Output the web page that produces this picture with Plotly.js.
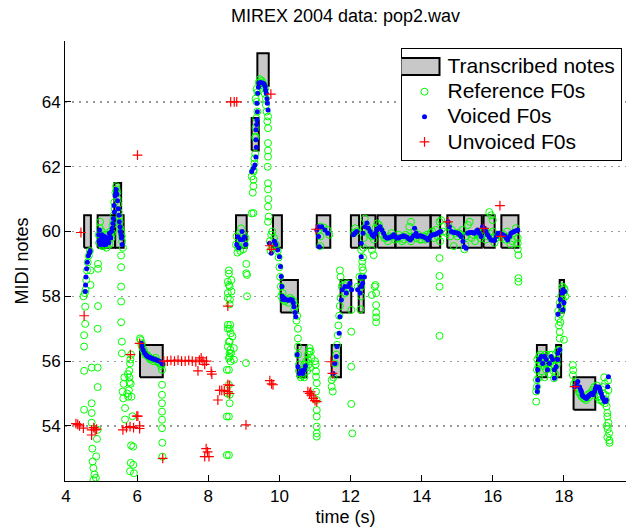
<!DOCTYPE html>
<html>
<head>
<meta charset="utf-8">
<script src="https://cdn.plot.ly/plotly-3.0.1.min.js"></script>
<style>html,body{margin:0;padding:0;background:#fff;}#chart{width:626px;height:531px;}</style>
</head>
<body>
<div id="chart"></div>
<script>
// Transcribed notes
const noteOn    = [4.51, 4.89, 5.38, 5.36, 6.08, 8.78, 9.22, 9.38, 9.82, 10.04, 10.51, 11.05, 11.47, 11.72, 12.01, 12.23, 12.32, 12.76, 13.26, 14.25, 14.72, 15.19, 15.74, 16.24, 17.24, 17.78, 17.88, 18.27];
const noteOff   = [4.70, 5.38, 5.62, 5.55, 6.72, 9.08, 9.42, 9.70, 10.07, 10.52, 10.76, 11.43, 11.73, 12.02, 12.24, 12.37, 12.70, 13.26, 14.25, 14.52, 15.19, 15.69, 16.05, 16.72, 17.51, 17.92, 18.00, 18.88];
const notePitch = [60, 60, 60, 61, 56, 60, 63, 65, 60, 58, 56, 60, 56, 58, 60, 58, 60, 60, 60, 60, 60, 60, 60, 60, 56, 56, 58, 55];

// Reference F0s [time, midi]
const refF0 = [
[4.49,58.0],[4.54,57.68],[4.54,57.15],[4.51,56.8],[4.51,56.45],[4.51,55.7],[4.51,54.5],[4.72,54.7],[4.72,54.4],[4.72,54.1],
[4.74,53.3],[4.77,52.7],[4.77,52.33],[4.84,52.4],[4.85,53.06],[4.87,53.6],[4.89,53.88],[4.89,55.2],[4.89,55.8],[4.72,55.8],
[4.69,58.8],[4.9,59.0],[4.9,58.85],[4.69,58.35],[4.9,57.7],[4.89,57.0],[4.8,52.5],[4.75,52.9],
[4.55,58.2],[4.57,58.5],[4.59,58.8],[4.61,59.05],[4.64,59.25],[4.67,59.4],[4.53,58.1],
[4.92,59.9],[4.95,60.1],[4.98,59.7],[5.0,59.6],[5.04,59.8],[5.08,59.65],[5.12,59.7],[5.16,59.6],[5.2,59.75],[5.24,60.0],
[5.28,59.8],[5.31,60.2],[5.34,60.5],[5.36,60.9],[5.39,61.2],[5.42,61.3],[5.45,61.0],[5.48,60.6],[5.51,60.3],[5.55,60.0],
[5.58,59.7],[5.6,59.5],[4.96,60.3],[5.02,59.55],
[4.93,59.65],[4.97,59.9],[5.01,60.0],[5.05,59.55],[5.1,59.9],[5.14,59.5],[5.18,59.9],[5.22,59.6],[5.26,59.95],[5.3,59.95],
[5.33,60.35],[5.37,60.7],[5.41,61.4],[5.44,61.2],[5.47,60.85],[5.5,60.45],[5.53,60.1],[5.57,59.85],
[5.55,59.26],[5.55,58.9],[5.55,58.3],[5.55,57.84],[5.55,57.2],[5.57,56.6],[5.57,56.24],
[5.83,56.2],[5.8,55.93],[5.78,55.7],[5.78,55.5],[5.82,55.3],[5.84,54.9],[5.59,55.06],[5.61,54.85],[5.66,54.55],[5.66,54.2],
[5.87,54.3],[5.89,53.36],[5.89,52.8],[5.91,52.54],[5.62,55.3],[5.64,55.5],[5.81,56.05],[5.77,55.1],[5.75,54.9],[5.72,55.0],
[5.74,55.6],[5.79,55.35],[5.83,53.4],[5.82,52.86],[5.8,52.6],
[6.70,55.73],[6.70,55.27],[6.70,54.96],[6.70,54.7],[6.70,54.44],[6.70,54.19],[6.70,53.93],[6.71,53.48],[6.71,53.05],
[6.1,56.65],[6.12,56.5],[6.15,56.4],[6.2,56.28],[6.27,56.2],[6.33,56.12],[6.4,56.08],[6.48,56.05],[6.56,56.0],[6.63,55.95],
[6.7,55.9],[6.08,56.7],
[6.13,56.55],[6.18,56.35],[6.23,56.2],[6.3,56.15],[6.37,56.05],[6.45,56.0],[6.52,56.1],[6.6,55.95],[6.67,55.85],
[8.62,57.12],[8.6,57.0],[8.63,56.86],[8.6,56.6],[8.62,56.35],[8.64,56.24],[8.6,56.14],[8.63,55.99],[8.58,55.73],[8.58,55.27],
[8.6,54.96],[8.6,54.7],[8.58,54.29],[8.58,53.1],[8.65,58.5],[8.6,58.3],[8.65,58.15],[8.61,57.9],[8.6,57.75],[8.68,56.76],
[8.72,56.4],[8.72,56.04],[8.58,58.8],[8.58,58.7],[8.55,58.45],[8.58,58.35],[8.55,58.1],[8.55,57.95],[8.55,57.12],[8.55,57.0],
[8.58,56.6],[8.55,56.45],[8.6,56.24],[8.58,56.1],[8.52,55.73],[8.54,55.0],[8.52,54.29],[8.52,53.1],
[9.06,55.94],[9.09,58.0],[9.09,58.66],[9.07,59.0],[9.22,60.56],[9.07,58.71],
[8.78,59.6],[8.8,59.85],[8.84,59.5],[8.88,59.95],[8.92,60.1],[8.96,59.7],[9.0,59.9],[9.03,59.6],[9.05,59.8],[8.82,59.35],
[8.9,59.4],[8.98,59.45],
[9.22,61.7],[9.27,61.9],[9.3,62.1],[9.32,62.4],[9.32,62.9],[9.33,63.2],[9.35,63.5],[9.36,64.0],[9.38,64.3],[9.42,64.6],
[9.5,64.65],[9.56,64.5],[9.59,64.25],[9.62,63.9],[9.64,63.7],[9.33,64.1],[9.38,63.7],[9.33,62.93],[9.3,62.26],[9.27,61.85],
[9.27,61.6],[9.27,61.4],[9.27,60.57],[9.68,63.55],[9.68,63.19],[9.68,62.73],[9.68,62.31],[9.68,61.49],[9.68,61.3],[9.68,60.77],
[9.7,60.46],[9.68,60.3],[9.66,63.4],[9.67,62.0],[9.69,61.0],[9.68,62.5],[9.25,61.2],
[9.36,64.4],[9.45,64.7],[9.53,64.6],[9.6,64.4],[9.62,64.1],
[9.73,59.7],[9.77,59.9],[9.8,60.0],[9.85,59.8],[9.9,59.6],[9.95,59.4],[9.98,59.2],[10.0,58.9],[10.02,58.6],[10.04,58.3],
[9.75,59.4],[9.78,59.5],
[10.05,58.0],[10.1,57.9],[10.2,57.9],[10.3,57.95],[10.4,57.85],[10.45,57.7],[10.5,57.4],[10.52,57.0],[10.52,56.7],[10.52,56.45],
[10.52,56.2],[10.55,55.9],[10.6,55.6],[10.65,55.7],[10.7,55.9],[10.75,56.0],[10.8,56.2],[10.85,56.4],[10.88,56.3],[10.9,56.1],
[10.78,55.7],[10.7,55.5],[10.6,55.5],[10.82,55.9],[10.86,55.8],
[10.15,57.85],[10.25,57.8],[10.35,57.9],[10.42,57.6],[10.48,57.25],[10.09,58.1],[10.55,55.7],[10.65,55.55],[10.75,55.8],[10.8,56.05],[10.84,56.3],
[11.03,55.68],[11.03,55.52],[11.05,55.32],[11.03,55.06],[11.05,54.8],[11.05,54.49],[11.05,54.29],[11.05,53.98],[11.05,53.77],[11.05,53.67],
[11.0,56.0],[11.02,55.9],
[11.1,60.05],[11.15,60.15],[11.25,60.12],[11.35,60.05],[11.4,59.9],[11.15,59.85],[11.15,59.55],
[11.47,55.42],[11.47,55.21],[11.5,55.06],[11.52,55.5],[11.56,55.93],[11.6,56.2],[11.62,56.5],[11.64,56.8],[11.66,57.1],[11.68,57.4],
[11.7,57.7],[11.72,57.95],[11.75,58.3],[11.8,58.35],[11.85,58.1],[11.9,58.4],[11.95,58.25],[11.72,58.6],[11.7,58.8],
[12.02,56.91],[12.02,55.83],[12.02,54.68],[12.05,53.77],[12.02,57.58],
[12.28,57.6],[12.3,58.0],[12.3,58.3],[12.32,58.6],[12.33,58.9],[12.35,59.2],[12.36,59.5],[12.37,59.8],[12.38,60.1],[12.4,60.4],
[12.2,58.3],[12.25,58.6],[12.1,59.95],[12.17,60.0],[12.13,60.1],
[12.7,58.35],[12.72,58.1],[12.72,57.73],[12.72,57.5],[12.72,57.35],[12.72,57.2],
[12.6,59.43],[12.65,59.27],[12.68,58.3],[12.6,58.04],
[12.45,60.2],[12.55,59.9],[12.6,59.85],[12.7,60.1],[12.8,60.2],[12.9,59.9],[13.0,59.8],[13.1,59.85],[13.2,59.85],[13.3,59.8],
[13.4,59.8],[13.5,59.75],[13.6,59.85],[13.65,60.15],[13.75,59.85],[13.85,59.8],[13.95,59.75],[14.05,59.85],[14.15,59.9],[14.25,59.95],
[14.3,60.0],[14.55,60.35],[14.6,60.0],[14.7,59.95],[14.8,59.85],[14.9,59.55],[14.95,59.95],[15.05,59.95],[15.15,60.05],[15.25,59.85],
[15.3,60.2],[15.4,59.8],[15.5,59.7],[15.6,59.9],[15.7,59.95],[15.8,59.75],[15.9,59.95],[16.0,60.0],[16.1,59.8],[16.2,59.9],
[16.3,59.9],[16.4,60.0],[16.5,59.6],[16.55,59.7],[15.35,60.3],[14.5,60.3],[14.52,59.7],[13.7,60.3],[15.95,60.5],[16.0,60.35],[15.9,60.6],
[12.5,60.0],[12.65,59.75],[12.75,60.25],[12.85,60.05],[12.95,59.8],[13.05,59.7],[13.15,59.95],[13.25,59.75],[13.35,59.9],[13.45,59.7],
[13.55,59.9],[13.7,59.7],[13.8,60.0],[13.9,59.9],[14.0,59.75],[14.1,59.75],[14.2,59.85],[14.35,59.8],[14.4,60.05],[14.45,59.85],
[14.75,60.2],[14.85,60.05],[15.0,59.85],[15.1,59.9],[15.2,59.45],[15.22,59.6],[15.45,59.9],[15.55,59.95],[15.65,59.8],[15.75,60.05],
[15.85,59.85],[16.05,59.65],[16.15,59.9],[16.25,59.8],[16.35,59.75],[16.45,59.85],[16.6,59.95],[16.65,60.1],
[14.5,59.18],[14.5,58.63],[14.5,58.3],[14.5,56.78],[16.7,59.64],[16.7,59.45],[16.72,59.27],[16.72,58.56],[16.72,58.45],[16.7,59.8],
[12.3,59.43],[12.33,59.07],[12.35,58.8],
[17.24,55.73],[17.24,55.42],[17.24,55.21],[17.22,55.06],[17.22,54.75],[17.25,56.05],[17.3,56.14],[17.35,55.93],[17.4,56.14],[17.45,56.05],
[17.5,55.73],[17.55,55.93],[17.6,56.2],[17.65,56.05],[17.7,55.7],[17.72,55.47],[17.75,55.83],[17.8,56.05],[17.85,56.35],[17.85,57.32],
[17.86,57.1],[17.88,56.9],[17.88,56.7],[18.0,56.66],[17.9,57.2],[17.95,57.6],[17.9,57.45],[17.93,57.7],[17.97,57.9],[18.0,58.1],
[18.02,58.2],[18.04,58.0],[17.45,55.5],[17.3,55.5],[17.6,55.6],
[17.28,55.85],[17.33,56.2],[17.38,56.0],[17.42,55.85],[17.48,56.2],[17.52,55.9],[17.57,55.8],[17.62,56.0],[17.67,56.2],[17.7,55.9],
[17.76,55.6],[17.8,55.9],[17.82,56.3],[17.84,57.55],[17.88,57.8],[17.92,58.0],[17.96,58.3],[18.0,58.25],
[18.25,55.88],[18.26,55.72],[18.25,55.57],[18.28,55.3],[18.33,55.35],[18.4,55.15],[18.45,55.0],[18.5,54.9],[18.6,54.85],[18.65,54.95],
[18.72,55.0],[18.8,55.1],[18.85,55.2],[18.9,55.1],[18.95,54.9],[19.0,54.8],[19.05,54.8],[19.1,55.2],[19.13,55.5],[19.15,55.3],
[19.17,54.95],[19.2,54.6],[19.22,54.4],[19.22,54.29],[19.25,54.1],[19.2,54.0],[19.23,53.9],[19.27,53.77],[19.22,53.65],[19.28,53.55],
[19.28,53.48],[19.1,55.0],[19.18,54.8],
[18.35,55.2],[18.42,55.05],[18.48,54.95],[18.55,54.85],[18.62,54.8],[18.7,54.88],[18.78,54.95],[18.84,55.05],[18.92,55.25],[18.98,55.1],
[19.03,54.9],[19.08,54.75],[19.15,54.7],[19.24,55.4],[19.25,55.1]
];

// Voiced F0s [time, midi]
const voicedF0 = [
[4.54,58.15],[4.55,58.35],[4.56,58.6],[4.58,58.85],[4.6,59.05],[4.63,59.25],[4.66,59.35],[4.68,59.4],
[4.92,59.9],[4.94,60.05],[4.97,59.75],[5.0,59.65],[5.03,59.85],[5.07,59.7],[5.1,59.75],[5.14,59.65],[5.18,59.75],[5.22,59.95],
[5.26,59.8],[5.3,60.1],[5.33,60.4],[5.35,60.8],[5.38,61.1],[5.41,61.3],[5.43,61.15],[5.47,60.7],[5.5,60.3],[5.53,60.0],[5.56,59.8],[5.58,59.6],
[4.93,59.7],[4.96,59.6],[5.01,59.9],[5.05,59.6],[5.09,59.85],[5.12,59.6],[5.16,59.8],[5.2,59.65],[5.24,59.85],[5.28,60.0],
[5.32,60.25],[5.36,60.6],[5.4,61.2],[5.45,60.95],[5.49,60.5],[5.52,60.15],[5.55,59.9],
[6.12,56.55],[6.17,56.34],[6.25,56.19],[6.32,56.13],[6.39,56.1],[6.47,56.06],[6.56,56.03],[6.67,55.97],[6.72,55.91],
[6.14,56.45],[6.21,56.25],[6.28,56.16],[6.36,56.11],[6.43,56.08],[6.51,56.05],[6.61,56.0],[6.7,55.93],
[8.8,59.6],[8.83,59.84],[8.86,59.5],[8.9,59.75],[8.95,60.0],[8.98,59.75],[9.02,59.84],[9.05,59.6],
[9.22,61.85],[9.27,61.95],[9.31,62.05],[9.34,62.3],[9.34,62.83],[9.34,63.14],[9.37,63.45],[9.37,63.96],[9.39,64.27],[9.43,64.58],
[9.53,64.58],[9.6,64.47],[9.63,64.27],[9.66,63.96],[9.68,63.75],
[9.35,62.6],[9.36,63.3],[9.38,63.7],[9.41,64.45],[9.47,64.6],[9.57,64.55],[9.61,64.37],[9.65,64.1],
[9.72,59.64],[9.77,59.33],[9.86,59.7],[9.9,59.6],[9.95,59.43],[10.0,59.22],[10.03,58.92],[10.05,58.61],[10.07,58.3],
[10.08,58.0],[10.13,57.94],[10.22,57.89],[10.36,57.89],[10.41,57.68],[10.46,57.37],[10.5,56.2],[10.52,55.83],[10.56,55.62],[10.62,55.7],
[10.66,55.62],[10.7,55.73],[10.73,55.85],
[10.1,57.9],[10.17,57.9],[10.27,57.88],[10.31,57.9],[10.39,57.8],[10.44,57.5],
[11.05,60.05],[11.1,60.15],[11.19,60.15],[11.28,60.05],[11.36,59.95],[11.1,59.85],[11.12,59.53],
[11.51,55.62],[11.56,55.93],[11.6,56.14],[11.62,56.45],[11.68,56.86],[11.7,57.37],[11.74,57.89],[11.77,58.2],[11.84,58.3],[11.88,58.1],
[11.93,58.3],[11.98,58.4],[12.03,58.2],
[12.2,58.2],[12.3,58.3],[12.34,58.4],[12.39,58.6],[12.35,59.95],[12.12,59.95],[12.17,60.0],[12.08,59.9],
[12.3,59.64],[12.3,59.22],[12.28,58.6],[12.27,58.1],
[12.41,60.15],[12.46,60.26],[12.55,60.0],[12.65,59.85],[12.74,60.05],[12.83,60.15],[12.93,59.95],[13.02,59.8],[13.12,59.83],[13.21,59.9],
[13.3,59.8],[13.4,59.83],[13.49,59.87],[13.58,59.83],[13.68,59.74],[13.77,59.87],[13.8,60.1],[13.88,59.85],[13.97,59.87],[14.05,59.84],
[14.17,59.74],[14.26,59.88],[14.35,59.9],[14.45,59.95],[14.54,60.0],
[12.5,60.1],[12.6,59.9],[12.7,59.95],[12.78,60.1],[12.88,60.05],[12.97,59.85],[13.07,59.8],[13.17,59.85],[13.26,59.85],[13.35,59.8],
[13.45,59.85],[13.53,59.85],[13.63,59.78],[13.72,59.8],[13.84,59.95],[13.92,59.86],[14.01,59.85],[14.11,59.8],[14.21,59.8],[14.3,59.9],
[14.4,59.92],[14.49,59.98],
[14.74,60.3],[14.78,60.15],[14.83,60.0],[14.92,59.97],[15.02,59.95],[15.11,59.85],[15.2,59.53],[15.25,59.48],[15.29,59.95],[15.4,59.97],
[15.48,59.95],[15.57,60.05],[15.67,59.85],[15.71,60.15],[15.76,60.1],[15.85,59.9],[15.95,59.74],[16.05,59.72],[16.14,59.95],[16.23,59.93],
[16.33,59.87],[16.42,59.74],[16.51,59.95],[16.6,60.0],[16.7,60.05],
[14.87,59.98],[14.97,59.96],[15.07,59.9],[15.16,59.7],[15.34,59.97],[15.44,59.96],[15.53,60.0],[15.62,59.95],[15.81,60.0],[15.9,59.82],
[16.0,59.73],[16.1,59.85],[16.19,59.95],[16.28,59.9],[16.38,59.8],[16.47,59.85],[16.56,59.98],[16.65,60.02],
[17.26,55.73],[17.26,55.42],[17.26,55.21],[17.25,55.06],[17.31,56.05],[17.36,56.14],[17.4,55.93],[17.45,56.14],[17.5,56.05],[17.54,55.73],
[17.59,55.93],[17.64,56.14],[17.68,56.05],[17.73,55.73],[17.73,55.47],[17.78,55.83],[17.83,56.05],[17.83,56.24],[17.88,56.35],
[17.83,57.45],[17.86,57.7],[17.9,57.9],[17.94,58.1],[17.97,58.2],[18.02,58.15],[18.0,57.8],[17.97,57.58],
[18.3,55.21],[18.35,55.32],[18.39,55.37],[18.44,55.2],[18.49,55.06],[18.51,54.96],[18.56,54.9],[18.63,54.85],[18.67,54.9],[18.72,54.96],
[18.77,55.0],[18.82,54.97],[18.86,55.06],[18.91,55.21],[18.95,55.18],[19.0,55.16],[19.05,55.0],[19.1,54.85],[19.14,54.75],[19.19,54.8],
[19.23,55.21],[19.25,55.52],
[18.47,55.12],[18.53,54.92],[18.6,54.87],[18.7,54.93],[18.8,54.98],[18.88,55.15],[18.98,55.2],[19.02,55.08],[19.08,54.9],[19.17,54.75]
];

// Unvoiced F0s [time, midi]
const unvoicedF0 = [
[4.42,59.97],[4.51,57.4],[4.28,54.07],[4.33,54.05],[4.38,54.0],[4.49,53.93],[4.72,53.88],[4.78,53.95],[4.82,53.88],[4.72,53.72],
[4.86,53.9],[5.6,53.88],[5.7,53.95],[5.8,53.98],[5.9,53.95],[5.99,54.3],[6.07,53.92],[5.81,56.2],[6.07,56.55],[6.01,62.36],
[8.63,64.0],[8.73,64.0],[8.8,64.0],[9.76,64.24],
[6.75,56.0],[6.85,56.0],[6.95,56.02],[7.05,56.0],[7.15,56.03],[7.25,56.0],[7.35,56.0],[7.45,56.02],[7.55,56.0],[7.65,55.98],
[7.75,56.03],[7.85,56.0],[7.95,56.0],[7.71,55.7],[8.08,55.68],[8.1,55.6],[7.8,56.1],[7.9,55.9],
[8.32,55.1],[8.38,55.1],[8.45,55.08],[8.55,55.06],[8.27,54.8],[8.6,55.0],[7.94,53.3],[7.98,53.2],[7.9,53.05],[8.02,53.05],
[6.02,54.3],[6.07,54.0],[6.72,53.0],[9.06,54.03],[8.55,57.7],[8.55,55.27],[8.6,55.25],[9.73,55.4],[9.78,55.3],[9.82,55.27],
[9.73,59.56],[9.78,59.45],
[10.8,55.06],[10.85,55.0],[10.9,54.95],[10.95,54.85],[11.0,54.78],[11.05,54.75],[10.88,55.05],
[11.45,55.98],[11.49,55.62],[11.03,60.07],[14.74,60.3],[15.75,60.1],[16.22,59.85],[16.2,60.8],[18.3,55.21]
];

const xTicks = [4, 6, 8, 10, 12, 14, 16, 18];
const yTicks = [54, 56, 58, 60, 62, 64];
const seriesNames = ['Transcribed notes', 'Reference F0s', 'Voiced F0s', 'Unvoiced F0s'];

const FONT = 'Liberation Sans, Arial, Helvetica, sans-serif';
const big = s => '<span style="font-size:21px">' + s + '</span>';

// build note rectangles as one filled trace
const nx = [], ny = [];
for (let i = 0; i < noteOn.length; i++) {
  const lo = notePitch[i] - 0.5, hi = notePitch[i] + 0.5;
  nx.push(noteOn[i], noteOff[i], noteOff[i], noteOn[i], noteOn[i], null);
  ny.push(lo, lo, hi, hi, lo, null);
}

const traces = [
  {
    x: nx, y: ny, type: 'scatter', mode: 'lines', fill: 'toself',
    fillcolor: '#c8c8c8', line: {color: '#000', width: 2},
    name: big(seriesNames[0]), hoverinfo: 'skip'
  },
  {
    x: refF0.map(p => p[0]), y: refF0.map(p => p[1]), type: 'scatter', mode: 'markers',
    marker: {symbol: 'circle-open', size: 7, color: '#00ff00', line: {width: 1, color: '#00ff00'}},
    name: big(seriesNames[1])
  },
  {
    x: voicedF0.map(p => p[0]), y: voicedF0.map(p => p[1]), type: 'scatter', mode: 'markers',
    marker: {symbol: 'circle', size: 5, color: '#0000ff'},
    name: big(seriesNames[2])
  },
  {
    x: unvoicedF0.map(p => p[0]), y: unvoicedF0.map(p => p[1]), type: 'scatter', mode: 'markers',
    marker: {symbol: 'cross-thin', size: 7, color: '#ff0000', line: {width: 1.2, color: '#ff0000'}},
    name: big(seriesNames[3])
  }
];

const layout = {
  width: 626, height: 531,
  margin: {l: 65, r: 0, t: 41, b: 50},
  paper_bgcolor: '#fff', plot_bgcolor: '#fff',
  font: {family: FONT, color: '#000', size: 18},
  title: {text: 'MIREX 2004 data: pop2.wav', font: {family: FONT, size: 18, color: '#000'},
          x: 0.5, xref: 'paper', y: 1 - 16/531, yref: 'container', yanchor: 'middle'},
  xaxis: {
    range: [3.972, 19.744], tickvals: xTicks, ticktext: xTicks.map(String),
    ticks: 'inside', ticklen: 6, tickcolor: '#000', tickwidth: 1,
    showline: true, linecolor: '#000', linewidth: 1, mirror: false,
    showgrid: false, zeroline: false,
    tickfont: {family: FONT, size: 17, color: '#000'},
    title: {text: 'time (s)', font: {family: FONT, size: 18, color: '#000'}, standoff: 4}
  },
  yaxis: {
    range: [52.30, 65.88], tickvals: yTicks, ticktext: yTicks.map(String),
    ticks: 'inside', ticklen: 6, tickcolor: '#000', tickwidth: 1,
    showline: true, linecolor: '#000', linewidth: 1, mirror: false,
    showgrid: true, gridcolor: '#9a9a9a', griddash: '2px,5px', gridwidth: 1.2, zeroline: false,
    tickfont: {family: FONT, size: 17, color: '#000'},
    title: {text: 'MIDI notes', font: {family: FONT, size: 18, color: '#000'}, standoff: 8}
  },
  showlegend: true,
  legend: {
    x: 0.992, xanchor: 'right', y: 0.984, yanchor: 'top',
    bgcolor: '#fff', bordercolor: '#000', borderwidth: 1,
    font: {family: FONT, size: 17, color: '#000'},
    tracegroupgap: 0, itemwidth: 36
  }
};

const gd = document.getElementById('chart');
Plotly.newPlot(gd, traces, layout, {displayModeBar: false, staticPlot: true}).then(function () {
  // legend swatch for notes: a filled box with black border, as in the reference
  const first = gd.querySelector('.legend .traces');
  if (first) {
    const fillPath = first.querySelector('.legendfill path');
    if (fillPath) {
      fillPath.setAttribute('d', 'M-12,-8.5h50v17h-50z');
      fillPath.style.fill = '#c8c8c8';
      fillPath.style.stroke = '#000';
      fillPath.style.strokeWidth = '2px';
    }
    first.querySelectorAll('.legendlines path').forEach(p => p.style.display = 'none');
  }
});
</script>
</body>
</html>
